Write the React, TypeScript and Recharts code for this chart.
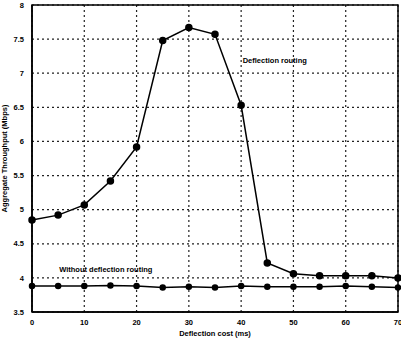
import {
  LineChart,
  Line,
  XAxis,
  YAxis,
  CartesianGrid,
  ReferenceArea,
  ReferenceDot,
  Label,
} from "recharts";

// Deflection cost (ms)
const COSTS = [0, 5, 10, 15, 20, 25, 30, 35, 40, 45, 50, 55, 60, 65, 70];
// Aggregate throughput (Mbps)
const WITH_DEFLECTION = [4.85, 4.92, 5.07, 5.42, 5.92, 7.48, 7.67, 7.57, 6.53, 4.22, 4.06, 4.03, 4.03, 4.03, 4.0];
const WITHOUT_DEFLECTION = [3.88, 3.88, 3.88, 3.89, 3.88, 3.86, 3.87, 3.86, 3.88, 3.87, 3.87, 3.87, 3.88, 3.87, 3.86];

const X_TICKS = [0, 10, 20, 30, 40, 50, 60, 70];
const Y_TICKS = [3.5, 4, 4.5, 5, 5.5, 6, 6.5, 7, 7.5, 8];

const data = COSTS.map((c, i) => ({
  cost: c,
  with: WITH_DEFLECTION[i],
  without: WITHOUT_DEFLECTION[i],
}));

const FONT = "'Liberation Sans', Arial, sans-serif";
const tickStyle = { fill: "#000", fontSize: 7.5, fontWeight: 700, fontFamily: FONT };
const textStyle = { fill: "#000", fontSize: 7.5, fontWeight: 700, fontFamily: FONT };

export default function App() {
  return (
    <div style={{ position: "fixed", left: 0, top: 0, width: 401, height: 339, background: "#fff" }}>
      <LineChart width={401} height={339} data={data} margin={{ top: 5, right: 3, left: 0, bottom: 0 }}>
        <CartesianGrid stroke="#222" strokeOpacity={1} strokeWidth={1.2} strokeDasharray="2 3" />
        <XAxis
          dataKey="cost"
          type="number"
          domain={[0, 70]}
          ticks={X_TICKS}
          interval={0}
          height={27}
          tick={tickStyle}
          tickLine={false}
          axisLine={{ stroke: "#000", strokeWidth: 1.5 }}
          tickMargin={2}
        >
          <Label value="Deflection cost (ms)" position="insideBottom" offset={3} style={textStyle} />
        </XAxis>
        <YAxis
          type="number"
          domain={[3.5, 8]}
          ticks={Y_TICKS}
          interval={0}
          width={32}
          tick={tickStyle}
          tickLine={false}
          axisLine={{ stroke: "#000", strokeWidth: 1.5 }}
          tickMargin={2}
        >
          <Label
            value="Aggregate Throughput (Mbps)"
            angle={-90}
            position="insideLeft"
            offset={4}
            style={{ ...textStyle, textAnchor: "middle" }}
          />
        </YAxis>
        <ReferenceArea x1={0} x2={70} y1={3.5} y2={8} fill="none" stroke="#000" strokeWidth={1.5} />
        <Line
          dataKey="with"
          stroke="#000"
          strokeWidth={1.5}
          dot={{ r: 3, fill: "#000", stroke: "#000" }}
          isAnimationActive={false}
        />
        <Line
          dataKey="without"
          stroke="#000"
          strokeWidth={1.5}
          dot={{ r: 2.5, fill: "#000", stroke: "#000" }}
          isAnimationActive={false}
        />
        <ReferenceDot x={40.3} y={7.19} r={0} fill="none" stroke="none">
          <Label value="Deflection routing" position="right" offset={0} style={textStyle} />
        </ReferenceDot>
        <ReferenceDot x={5.2} y={4.13} r={0} fill="none" stroke="none">
          <Label value="Without deflection routing" position="right" offset={0} style={textStyle} />
        </ReferenceDot>
      </LineChart>
    </div>
  );
}
